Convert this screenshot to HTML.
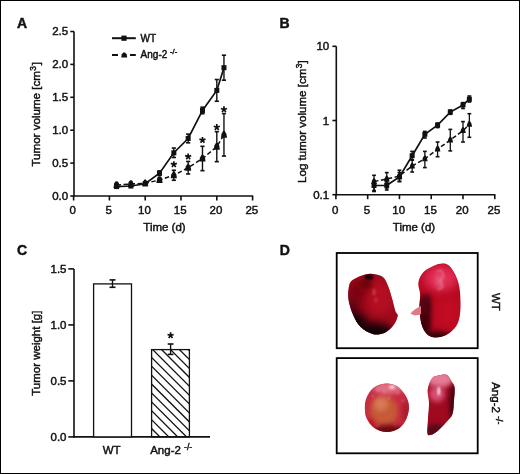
<!DOCTYPE html>
<html><head><meta charset="utf-8"><style>
html,body{margin:0;padding:0;background:#fff;}
body{width:520px;height:474px;overflow:hidden;position:relative;}
.frame{position:absolute;left:0;top:0;width:518px;height:472px;border-top:1px solid #000;border-left:1px solid #000;border-right:1.6px solid #000;border-bottom:1.6px solid #000;box-sizing:content-box;}
svg{position:absolute;left:0;top:0;will-change:transform;}
svg text{font-family:"Liberation Sans", sans-serif;font-weight:normal;fill:#111;stroke:#111;stroke-width:0.45px;}
.b{font-weight:bold;}
</style></head><body>
<svg width="520" height="474" viewBox="0 0 520 474">
<g stroke="#111" stroke-width="1.6" fill="none">
<line x1="74.00" y1="31.50" x2="74.00" y2="196.80" />
<line x1="70.3" y1="196.00" x2="74.00" y2="196.00" />
<text x="68.20" y="199.90" text-anchor="end" font-size="11.5">0.0</text>
<line x1="70.3" y1="163.10" x2="74.00" y2="163.10" />
<text x="68.20" y="167.00" text-anchor="end" font-size="11.5">0.5</text>
<line x1="70.3" y1="130.20" x2="74.00" y2="130.20" />
<text x="68.20" y="134.10" text-anchor="end" font-size="11.5">1.0</text>
<line x1="70.3" y1="97.30" x2="74.00" y2="97.30" />
<text x="68.20" y="101.20" text-anchor="end" font-size="11.5">1.5</text>
<line x1="70.3" y1="64.40" x2="74.00" y2="64.40" />
<text x="68.20" y="68.30" text-anchor="end" font-size="11.5">2.0</text>
<line x1="70.3" y1="31.50" x2="74.00" y2="31.50" />
<text x="68.20" y="35.40" text-anchor="end" font-size="11.5">2.5</text>
<line x1="73.20" y1="196.00" x2="253.20" y2="196.00" />
<line x1="73.60" y1="196.00" x2="73.60" y2="200.5" />
<text x="72.80" y="213.80" text-anchor="middle" font-size="11.5">0</text>
<line x1="109.40" y1="196.00" x2="109.40" y2="200.5" />
<text x="108.60" y="213.80" text-anchor="middle" font-size="11.5">5</text>
<line x1="145.20" y1="196.00" x2="145.20" y2="200.5" />
<text x="144.40" y="213.80" text-anchor="middle" font-size="11.5">10</text>
<line x1="181.00" y1="196.00" x2="181.00" y2="200.5" />
<text x="180.20" y="213.80" text-anchor="middle" font-size="11.5">15</text>
<line x1="216.80" y1="196.00" x2="216.80" y2="200.5" />
<text x="216.00" y="213.80" text-anchor="middle" font-size="11.5">20</text>
<line x1="252.60" y1="196.00" x2="252.60" y2="200.5" />
<text x="251.80" y="213.80" text-anchor="middle" font-size="11.5">25</text>
<text x="143.3" y="230.8" font-size="11.5">Time (d)</text>
<text transform="translate(40,166.6) rotate(-90)" font-size="11.6">Tumor volume [cm<tspan dx="0.3" dy="-4.3" font-size="8.4">3</tspan><tspan dx="0.9" dy="4.3">]</tspan></text>
<polyline points="116.56,186.60 130.88,186.00 145.20,183.80 159.52,173.20 173.84,152.77 188.16,138.49 202.48,110.46 216.80,90.39 223.96,67.69" fill="none" stroke-width="1.7"/>
<polyline points="116.56,185.00 130.88,184.00 145.20,183.30 159.52,180.00 173.84,175.27 188.16,167.71 202.48,158.49 216.80,146.65 223.96,134.81" fill="none" stroke-width="1.5" stroke-dasharray="4.5 2.5"/>
<line x1="116.56" y1="185.28" x2="116.56" y2="187.92" stroke-width="1.4"/>
<line x1="114.46" y1="185.28" x2="118.66" y2="185.28" />
<line x1="114.46" y1="187.92" x2="118.66" y2="187.92" />
<rect x="114.06" y="184.10" width="5" height="5" fill="#111" stroke="none"/>
<line x1="130.88" y1="184.68" x2="130.88" y2="187.32" stroke-width="1.4"/>
<line x1="128.78" y1="184.68" x2="132.98" y2="184.68" />
<line x1="128.78" y1="187.32" x2="132.98" y2="187.32" />
<rect x="128.38" y="183.50" width="5" height="5" fill="#111" stroke="none"/>
<line x1="145.20" y1="182.48" x2="145.20" y2="185.12" stroke-width="1.4"/>
<line x1="143.10" y1="182.48" x2="147.30" y2="182.48" />
<line x1="143.10" y1="185.12" x2="147.30" y2="185.12" />
<rect x="142.70" y="181.30" width="5" height="5" fill="#111" stroke="none"/>
<line x1="159.52" y1="170.90" x2="159.52" y2="175.50" stroke-width="1.4"/>
<line x1="157.42" y1="170.90" x2="161.62" y2="170.90" />
<line x1="157.42" y1="175.50" x2="161.62" y2="175.50" />
<rect x="157.02" y="170.70" width="5" height="5" fill="#111" stroke="none"/>
<line x1="173.84" y1="148.03" x2="173.84" y2="157.51" stroke-width="1.4"/>
<line x1="171.74" y1="148.03" x2="175.94" y2="148.03" />
<line x1="171.74" y1="157.51" x2="175.94" y2="157.51" />
<rect x="171.34" y="150.27" width="5" height="5" fill="#111" stroke="none"/>
<line x1="188.16" y1="134.15" x2="188.16" y2="142.83" stroke-width="1.4"/>
<line x1="186.06" y1="134.15" x2="190.26" y2="134.15" />
<line x1="186.06" y1="142.83" x2="190.26" y2="142.83" />
<rect x="185.66" y="135.99" width="5" height="5" fill="#111" stroke="none"/>
<line x1="202.48" y1="107.17" x2="202.48" y2="113.75" stroke-width="1.4"/>
<line x1="200.38" y1="107.17" x2="204.58" y2="107.17" />
<line x1="200.38" y1="113.75" x2="204.58" y2="113.75" />
<rect x="199.98" y="107.96" width="5" height="5" fill="#111" stroke="none"/>
<line x1="216.80" y1="79.53" x2="216.80" y2="101.25" stroke-width="1.4"/>
<line x1="214.70" y1="79.53" x2="218.90" y2="79.53" />
<line x1="214.70" y1="101.25" x2="218.90" y2="101.25" />
<rect x="214.30" y="87.89" width="5" height="5" fill="#111" stroke="none"/>
<line x1="223.96" y1="55.19" x2="223.96" y2="80.19" stroke-width="1.4"/>
<line x1="221.86" y1="55.19" x2="226.06" y2="55.19" />
<line x1="221.86" y1="80.19" x2="226.06" y2="80.19" />
<rect x="221.46" y="65.19" width="5" height="5" fill="#111" stroke="none"/>
<line x1="116.56" y1="183.35" x2="116.56" y2="186.65" stroke-width="1.4"/>
<line x1="114.46" y1="183.35" x2="118.66" y2="183.35" />
<line x1="114.46" y1="186.65" x2="118.66" y2="186.65" />
<path d="M115.76,181.20 L117.36,181.20 L118.96,183.86 L119.66,188.00 L113.46,188.00 L114.16,183.86 Z" fill="#111" stroke="none"/>
<line x1="130.88" y1="182.35" x2="130.88" y2="185.65" stroke-width="1.4"/>
<line x1="128.78" y1="182.35" x2="132.98" y2="182.35" />
<line x1="128.78" y1="185.65" x2="132.98" y2="185.65" />
<path d="M130.08,180.20 L131.68,180.20 L133.28,182.86 L133.98,187.00 L127.78,187.00 L128.48,182.86 Z" fill="#111" stroke="none"/>
<line x1="145.20" y1="181.98" x2="145.20" y2="184.62" stroke-width="1.4"/>
<line x1="143.10" y1="181.98" x2="147.30" y2="181.98" />
<line x1="143.10" y1="184.62" x2="147.30" y2="184.62" />
<path d="M144.40,179.50 L146.00,179.50 L147.60,182.16 L148.30,186.30 L142.10,186.30 L142.80,182.16 Z" fill="#111" stroke="none"/>
<line x1="159.52" y1="178.03" x2="159.52" y2="181.97" stroke-width="1.4"/>
<line x1="157.42" y1="178.03" x2="161.62" y2="178.03" />
<line x1="157.42" y1="181.97" x2="161.62" y2="181.97" />
<path d="M158.72,176.20 L160.32,176.20 L161.92,178.86 L162.62,183.00 L156.42,183.00 L157.12,178.86 Z" fill="#111" stroke="none"/>
<line x1="173.84" y1="170.27" x2="173.84" y2="180.27" stroke-width="1.4"/>
<line x1="171.74" y1="170.27" x2="175.94" y2="170.27" />
<line x1="171.74" y1="180.27" x2="175.94" y2="180.27" />
<path d="M173.04,171.47 L174.64,171.47 L176.24,174.13 L176.94,178.27 L170.74,178.27 L171.44,174.13 Z" fill="#111" stroke="none"/>
<line x1="188.16" y1="161.46" x2="188.16" y2="173.96" stroke-width="1.4"/>
<line x1="186.06" y1="161.46" x2="190.26" y2="161.46" />
<line x1="186.06" y1="173.96" x2="190.26" y2="173.96" />
<path d="M187.36,163.91 L188.96,163.91 L190.56,166.57 L191.26,170.71 L185.06,170.71 L185.76,166.57 Z" fill="#111" stroke="none"/>
<line x1="202.48" y1="146.32" x2="202.48" y2="170.67" stroke-width="1.4"/>
<line x1="200.38" y1="146.32" x2="204.58" y2="146.32" />
<line x1="200.38" y1="170.67" x2="204.58" y2="170.67" />
<path d="M201.68,154.69 L203.28,154.69 L204.88,157.35 L205.58,161.49 L199.38,161.49 L200.08,157.35 Z" fill="#111" stroke="none"/>
<line x1="216.80" y1="131.65" x2="216.80" y2="161.65" stroke-width="1.4"/>
<line x1="214.70" y1="131.65" x2="218.90" y2="131.65" />
<line x1="214.70" y1="161.65" x2="218.90" y2="161.65" />
<path d="M216.00,142.85 L217.60,142.85 L219.20,145.51 L219.90,149.65 L213.70,149.65 L214.40,145.51 Z" fill="#111" stroke="none"/>
<line x1="223.96" y1="113.55" x2="223.96" y2="156.06" stroke-width="1.4"/>
<line x1="221.86" y1="113.55" x2="226.06" y2="113.55" />
<line x1="221.86" y1="156.06" x2="226.06" y2="156.06" />
<path d="M223.16,131.01 L224.76,131.01 L226.36,133.67 L227.06,137.81 L220.86,137.81 L221.56,133.67 Z" fill="#111" stroke="none"/>
<path d="M173.84,164.40 L173.84,161.20 M173.84,164.40 L176.88,163.41 M173.84,164.40 L175.72,166.99 M173.84,164.40 L171.96,166.99 M173.84,164.40 L170.80,163.41" stroke-width="1.7" stroke-linecap="butt"/>
<path d="M188.16,156.60 L188.16,153.40 M188.16,156.60 L191.20,155.61 M188.16,156.60 L190.04,159.19 M188.16,156.60 L186.28,159.19 M188.16,156.60 L185.12,155.61" stroke-width="1.7" stroke-linecap="butt"/>
<path d="M202.48,140.10 L202.48,136.90 M202.48,140.10 L205.52,139.11 M202.48,140.10 L204.36,142.69 M202.48,140.10 L200.60,142.69 M202.48,140.10 L199.44,139.11" stroke-width="1.7" stroke-linecap="butt"/>
<path d="M216.80,127.30 L216.80,124.10 M216.80,127.30 L219.84,126.31 M216.80,127.30 L218.68,129.89 M216.80,127.30 L214.92,129.89 M216.80,127.30 L213.76,126.31" stroke-width="1.7" stroke-linecap="butt"/>
<path d="M223.96,109.50 L223.96,106.30 M223.96,109.50 L227.00,108.51 M223.96,109.50 L225.84,112.09 M223.96,109.50 L222.08,112.09 M223.96,109.50 L220.92,108.51" stroke-width="1.7" stroke-linecap="butt"/>
<line x1="112" y1="38.2" x2="135.8" y2="38.2" stroke-width="2"/>
<rect x="121.40" y="35.60" width="5.2" height="5.2" fill="#111" stroke="none"/>
<line x1="112" y1="55" x2="118" y2="55" stroke-width="2"/>
<line x1="130" y1="55" x2="135.8" y2="55" stroke-width="2"/>
<path d="M123.40,52.40 L125.00,52.40 L126.60,54.29 L127.20,57.50 L121.20,57.50 L121.80,54.29 Z" fill="#111" stroke="none"/>
<text x="140.6" y="41.8" font-size="10">WT</text>
<text x="140.6" y="58.2" font-size="10">Ang-2<tspan x="170" y="54.2" font-size="7.6">-/-</tspan></text>
<line x1="336.30" y1="46.30" x2="336.30" y2="195.50" />
<line x1="332.4" y1="194.70" x2="336.30" y2="194.70" />
<text x="329.20" y="198.70" text-anchor="end" font-size="11.5">0.1</text>
<line x1="332.4" y1="120.50" x2="336.30" y2="120.50" />
<text x="329.20" y="124.50" text-anchor="end" font-size="11.5">1</text>
<line x1="332.4" y1="46.30" x2="336.30" y2="46.30" />
<text x="329.20" y="50.30" text-anchor="end" font-size="11.5">10</text>
<line x1="335.50" y1="194.70" x2="495.38" y2="194.70" />
<line x1="335.90" y1="194.70" x2="335.90" y2="199.2" />
<text x="335.10" y="213.80" text-anchor="middle" font-size="11.5">0</text>
<line x1="367.67" y1="194.70" x2="367.67" y2="199.2" />
<text x="366.87" y="213.80" text-anchor="middle" font-size="11.5">5</text>
<line x1="399.45" y1="194.70" x2="399.45" y2="199.2" />
<text x="398.65" y="213.80" text-anchor="middle" font-size="11.5">10</text>
<line x1="431.22" y1="194.70" x2="431.22" y2="199.2" />
<text x="430.42" y="213.80" text-anchor="middle" font-size="11.5">15</text>
<line x1="463.00" y1="194.70" x2="463.00" y2="199.2" />
<text x="462.20" y="213.80" text-anchor="middle" font-size="11.5">20</text>
<line x1="494.77" y1="194.70" x2="494.77" y2="199.2" />
<text x="493.97" y="213.80" text-anchor="middle" font-size="11.5">25</text>
<text x="392.8" y="230.9" font-size="11.5">Time (d)</text>
<text transform="translate(306,182.9) rotate(-90)" font-size="11.55">Log tumor volume [cm<tspan dx="0.3" dy="-4.3" font-size="8.4">3</tspan><tspan dx="0.1" dy="4.3">]</tspan></text>
<polyline points="374.03,185.50 386.74,185.30 399.45,177.00 412.16,155.70 424.87,134.30 437.58,125.20 450.29,112.10 463.00,105.00 469.36,99.20" fill="none" stroke-width="1.7"/>
<polyline points="374.03,181.50 386.74,179.00 399.45,176.00 412.16,166.00 424.87,158.80 437.58,149.10 450.29,140.00 463.00,130.60 469.36,124.40" fill="none" stroke-width="1.5" stroke-dasharray="4.5 2.5"/>
<line x1="374.03" y1="182.50" x2="374.03" y2="191.50" stroke-width="1.3"/>
<line x1="372.13" y1="182.50" x2="375.93" y2="182.50" />
<line x1="372.13" y1="191.50" x2="375.93" y2="191.50" />
<rect x="371.53" y="183.00" width="5" height="5" fill="#111" stroke="none"/>
<line x1="386.74" y1="182.00" x2="386.74" y2="190.00" stroke-width="1.3"/>
<line x1="384.84" y1="182.00" x2="388.64" y2="182.00" />
<line x1="384.84" y1="190.00" x2="388.64" y2="190.00" />
<rect x="384.24" y="182.80" width="5" height="5" fill="#111" stroke="none"/>
<line x1="399.45" y1="172.50" x2="399.45" y2="181.50" stroke-width="1.3"/>
<line x1="397.55" y1="172.50" x2="401.35" y2="172.50" />
<line x1="397.55" y1="181.50" x2="401.35" y2="181.50" />
<rect x="396.95" y="174.50" width="5" height="5" fill="#111" stroke="none"/>
<line x1="412.16" y1="151.40" x2="412.16" y2="159.80" stroke-width="1.3"/>
<line x1="410.26" y1="151.40" x2="414.06" y2="151.40" />
<line x1="410.26" y1="159.80" x2="414.06" y2="159.80" />
<rect x="409.66" y="153.20" width="5" height="5" fill="#111" stroke="none"/>
<line x1="424.87" y1="131.40" x2="424.87" y2="138.00" stroke-width="1.3"/>
<line x1="422.97" y1="131.40" x2="426.77" y2="131.40" />
<line x1="422.97" y1="138.00" x2="426.77" y2="138.00" />
<rect x="422.37" y="131.80" width="5" height="5" fill="#111" stroke="none"/>
<line x1="437.58" y1="123.00" x2="437.58" y2="127.60" stroke-width="1.3"/>
<line x1="435.68" y1="123.00" x2="439.48" y2="123.00" />
<line x1="435.68" y1="127.60" x2="439.48" y2="127.60" />
<rect x="435.08" y="122.70" width="5" height="5" fill="#111" stroke="none"/>
<line x1="450.29" y1="110.00" x2="450.29" y2="114.30" stroke-width="1.3"/>
<line x1="448.39" y1="110.00" x2="452.19" y2="110.00" />
<line x1="448.39" y1="114.30" x2="452.19" y2="114.30" />
<rect x="447.79" y="109.60" width="5" height="5" fill="#111" stroke="none"/>
<line x1="463.00" y1="102.60" x2="463.00" y2="108.50" stroke-width="1.3"/>
<line x1="461.10" y1="102.60" x2="464.90" y2="102.60" />
<line x1="461.10" y1="108.50" x2="464.90" y2="108.50" />
<rect x="460.50" y="102.50" width="5" height="5" fill="#111" stroke="none"/>
<line x1="469.36" y1="96.00" x2="469.36" y2="102.00" stroke-width="1.3"/>
<line x1="467.46" y1="96.00" x2="471.25" y2="96.00" />
<line x1="467.46" y1="102.00" x2="471.25" y2="102.00" />
<rect x="466.86" y="96.70" width="5" height="5" fill="#111" stroke="none"/>
<line x1="374.03" y1="175.30" x2="374.03" y2="190.50" stroke-width="1.3"/>
<line x1="372.13" y1="175.30" x2="375.93" y2="175.30" />
<line x1="372.13" y1="190.50" x2="375.93" y2="190.50" />
<path d="M373.33,178.20 L374.73,178.20 L376.03,180.51 L376.83,183.90 L371.23,183.90 L372.03,180.51 Z" fill="#111" stroke="none"/>
<line x1="386.74" y1="172.60" x2="386.74" y2="188.00" stroke-width="1.3"/>
<line x1="384.84" y1="172.60" x2="388.64" y2="172.60" />
<line x1="384.84" y1="188.00" x2="388.64" y2="188.00" />
<path d="M386.04,175.70 L387.44,175.70 L388.74,178.01 L389.54,181.40 L383.94,181.40 L384.74,178.01 Z" fill="#111" stroke="none"/>
<line x1="399.45" y1="170.20" x2="399.45" y2="181.50" stroke-width="1.3"/>
<line x1="397.55" y1="170.20" x2="401.35" y2="170.20" />
<line x1="397.55" y1="181.50" x2="401.35" y2="181.50" />
<path d="M398.75,172.70 L400.15,172.70 L401.45,175.01 L402.25,178.40 L396.65,178.40 L397.45,175.01 Z" fill="#111" stroke="none"/>
<line x1="412.16" y1="160.20" x2="412.16" y2="172.00" stroke-width="1.3"/>
<line x1="410.26" y1="160.20" x2="414.06" y2="160.20" />
<line x1="410.26" y1="172.00" x2="414.06" y2="172.00" />
<path d="M411.46,162.70 L412.86,162.70 L414.16,165.01 L414.96,168.40 L409.36,168.40 L410.16,165.01 Z" fill="#111" stroke="none"/>
<line x1="424.87" y1="151.40" x2="424.87" y2="167.60" stroke-width="1.3"/>
<line x1="422.97" y1="151.40" x2="426.77" y2="151.40" />
<line x1="422.97" y1="167.60" x2="426.77" y2="167.60" />
<path d="M424.17,155.50 L425.57,155.50 L426.87,157.81 L427.67,161.20 L422.07,161.20 L422.87,157.81 Z" fill="#111" stroke="none"/>
<line x1="437.58" y1="142.00" x2="437.58" y2="156.70" stroke-width="1.3"/>
<line x1="435.68" y1="142.00" x2="439.48" y2="142.00" />
<line x1="435.68" y1="156.70" x2="439.48" y2="156.70" />
<path d="M436.88,145.80 L438.28,145.80 L439.58,148.11 L440.38,151.50 L434.78,151.50 L435.58,148.11 Z" fill="#111" stroke="none"/>
<line x1="450.29" y1="129.40" x2="450.29" y2="150.90" stroke-width="1.3"/>
<line x1="448.39" y1="129.40" x2="452.19" y2="129.40" />
<line x1="448.39" y1="150.90" x2="452.19" y2="150.90" />
<path d="M449.59,136.70 L450.99,136.70 L452.29,139.01 L453.09,142.40 L447.49,142.40 L448.29,139.01 Z" fill="#111" stroke="none"/>
<line x1="463.00" y1="121.60" x2="463.00" y2="142.00" stroke-width="1.3"/>
<line x1="461.10" y1="121.60" x2="464.90" y2="121.60" />
<line x1="461.10" y1="142.00" x2="464.90" y2="142.00" />
<path d="M462.30,127.30 L463.70,127.30 L465.00,129.61 L465.80,133.00 L460.20,133.00 L461.00,129.61 Z" fill="#111" stroke="none"/>
<line x1="469.36" y1="113.70" x2="469.36" y2="137.30" stroke-width="1.3"/>
<line x1="467.46" y1="113.70" x2="471.25" y2="113.70" />
<line x1="467.46" y1="137.30" x2="471.25" y2="137.30" />
<path d="M468.66,121.10 L470.06,121.10 L471.36,123.41 L472.16,126.80 L466.56,126.80 L467.36,123.41 Z" fill="#111" stroke="none"/>
<line x1="74.0" y1="268.90" x2="74.0" y2="437.70" />
<line x1="68.3" y1="436.90" x2="74.0" y2="436.90" />
<text x="66.50" y="440.80" text-anchor="end" font-size="11.5">0.0</text>
<line x1="68.3" y1="380.90" x2="74.0" y2="380.90" />
<text x="66.50" y="384.80" text-anchor="end" font-size="11.5">0.5</text>
<line x1="68.3" y1="324.90" x2="74.0" y2="324.90" />
<text x="66.50" y="328.80" text-anchor="end" font-size="11.5">1.0</text>
<line x1="68.3" y1="268.90" x2="74.0" y2="268.90" />
<text x="66.50" y="272.80" text-anchor="end" font-size="11.5">1.5</text>
<line x1="73.2" y1="436.90" x2="210" y2="436.90" />
<rect x="93.6" y="283.9" width="37.9" height="153.00" fill="#fff" stroke-width="1.3"/>
<line x1="112.50" y1="279.90" x2="112.50" y2="287.30" stroke-width="1.4"/>
<line x1="109.50" y1="279.90" x2="115.50" y2="279.90" />
<line x1="109.50" y1="287.30" x2="115.50" y2="287.30" />
<clipPath id="cb"><rect x="151.6" y="349.6" width="37.8" height="87.3"/></clipPath>
<g clip-path="url(#cb)" stroke-width="1.3">
<line x1="140" y1="292.40" x2="200" y2="352.40" />
<line x1="140" y1="301.30" x2="200" y2="361.30" />
<line x1="140" y1="310.20" x2="200" y2="370.20" />
<line x1="140" y1="319.10" x2="200" y2="379.10" />
<line x1="140" y1="328.00" x2="200" y2="388.00" />
<line x1="140" y1="336.90" x2="200" y2="396.90" />
<line x1="140" y1="345.80" x2="200" y2="405.80" />
<line x1="140" y1="354.70" x2="200" y2="414.70" />
<line x1="140" y1="363.60" x2="200" y2="423.60" />
<line x1="140" y1="372.50" x2="200" y2="432.50" />
<line x1="140" y1="381.40" x2="200" y2="441.40" />
<line x1="140" y1="390.30" x2="200" y2="450.30" />
<line x1="140" y1="399.20" x2="200" y2="459.20" />
<line x1="140" y1="408.10" x2="200" y2="468.10" />
<line x1="140" y1="417.00" x2="200" y2="477.00" />
<line x1="140" y1="425.90" x2="200" y2="485.90" />
<line x1="140" y1="434.80" x2="200" y2="494.80" />
<line x1="140" y1="443.70" x2="200" y2="503.70" />
<line x1="140" y1="452.60" x2="200" y2="512.60" />
<line x1="140" y1="461.50" x2="200" y2="521.50" />
</g>
<rect x="151.6" y="349.6" width="37.8" height="87.30" fill="none" stroke-width="1.3"/>
<line x1="170.60" y1="344.00" x2="170.60" y2="354.40" stroke-width="1.4"/>
<line x1="167.70" y1="344.00" x2="173.50" y2="344.00" />
<line x1="167.70" y1="354.40" x2="173.50" y2="354.40" />
<path d="M170.60,335.50 L170.60,332.30 M170.60,335.50 L173.64,334.51 M170.60,335.50 L172.48,338.09 M170.60,335.50 L168.72,338.09 M170.60,335.50 L167.56,334.51" stroke-width="1.7" stroke-linecap="butt"/>
<text x="111.6" y="454" text-anchor="middle" font-size="11.5">WT</text>
<text x="150.2" y="453.7" font-size="11.5">Ang-2<tspan x="184" y="450.3" font-size="8.8">-/-</tspan></text>
<text transform="translate(39.8,395.8) rotate(-90)" font-size="11.5">Tumor weight [g]</text>
<text x="17" y="27.8" font-size="14" class="b">A</text>
<text x="279.5" y="27.8" font-size="14" class="b">B</text>
<text x="17" y="254.8" font-size="14" class="b">C</text>
<text x="279.8" y="254.8" font-size="14" class="b">D</text>
</g>
<rect x="336.7" y="253" width="141" height="95.2" fill="#fff" stroke="#000" stroke-width="1.8"/>
<rect x="336.7" y="358.1" width="141" height="95.2" fill="#fff" stroke="#000" stroke-width="1.8"/>
<text transform="translate(491.6,293) rotate(90)" font-size="11.5" fill="#111">WT</text>
<text transform="translate(492.3,382.2) rotate(90)" font-size="11.5" fill="#111">Ang-2<tspan dx="3.2" dy="-4.2" font-size="8.8">-/-</tspan></text>
<defs>
<clipPath id="c1"><path d="M368.1,273.9 C372.9,273.2 378.2,274.4 381.4,276.1 C384.6,277.8 385.6,280.6 387.3,284.2 C389.0,287.8 390.4,293.0 391.7,297.5 C393.0,302.0 394.4,307.9 395.4,311.0 C396.4,314.1 398.1,313.6 397.7,316.0 C397.3,318.4 395.4,322.8 393.2,325.6 C391.0,328.4 387.8,331.6 384.4,333.0 C380.9,334.4 376.4,335.0 372.5,334.0 C368.6,333.0 363.9,330.2 360.7,327.1 C357.5,324.0 355.3,319.7 353.3,315.3 C351.3,310.9 349.4,304.9 348.6,300.5 C347.8,296.1 348.0,292.1 348.6,288.7 C349.2,285.3 349.2,282.5 352.5,280.0 C355.8,277.5 363.3,274.5 368.1,273.9 Z"/></clipPath>
<clipPath id="c2"><path d="M442.6,263.5 C445.2,263.5 447.2,263.7 449.5,266.0 C451.8,268.3 454.7,273.1 456.4,277.3 C458.1,281.5 459.3,285.3 459.9,291.1 C460.5,296.9 460.8,306.1 460.2,311.9 C459.6,317.7 458.9,321.8 456.4,325.7 C453.9,329.6 449.2,333.6 445.0,335.5 C440.8,337.4 434.8,338.2 431.0,336.8 C427.2,335.4 424.4,331.5 422.5,327.0 C420.6,322.5 419.9,315.4 419.5,310.0 C419.1,304.6 420.3,299.2 420.1,294.6 C419.9,290.0 417.8,286.2 418.4,282.5 C419.0,278.8 421.0,274.9 423.6,272.1 C426.2,269.3 430.8,267.2 434.0,265.8 C437.2,264.4 440.0,263.5 442.6,263.5 Z"/></clipPath>
<clipPath id="c3"><path d="M385.7,383.5 C389.6,383.2 393.4,384.1 396.7,386.0 C400.0,387.9 403.2,391.7 405.3,395.1 C407.4,398.5 408.8,402.3 409.0,406.2 C409.2,410.1 408.1,414.7 406.5,418.4 C404.9,422.1 402.5,425.9 399.2,428.2 C395.9,430.4 391.0,431.9 386.9,431.9 C382.8,431.9 378.1,430.4 374.7,428.2 C371.3,425.9 368.3,421.5 366.7,418.4 C365.1,415.3 365.0,413.1 364.9,409.8 C364.8,406.5 364.7,402.5 366.1,398.8 C367.5,395.1 370.2,390.4 373.5,387.8 C376.8,385.2 381.8,383.8 385.7,383.5 Z"/></clipPath>
<clipPath id="c4"><path d="M432.0,378.5 C433.7,376.2 435.6,376.2 438.0,375.6 C440.4,375.0 444.3,373.9 446.5,374.8 C448.7,375.7 449.9,378.9 451.3,381.0 C452.7,383.1 454.2,384.1 454.6,387.3 C455.1,390.5 454.4,395.6 454.0,400.0 C453.6,404.4 453.8,410.3 452.5,414.0 C451.2,417.7 449.1,419.1 446.5,422.0 C443.9,424.9 439.6,429.4 437.0,431.5 C434.4,433.6 432.8,434.5 431.2,434.8 C429.6,435.1 428.0,436.3 427.5,433.5 C427.0,430.7 427.8,423.1 428.0,418.0 C428.2,412.9 429.1,407.8 429.0,403.0 C428.9,398.2 427.2,393.6 427.7,389.5 C428.2,385.4 430.3,380.8 432.0,378.5 Z"/></clipPath>
<filter id="b2" color-interpolation-filters="sRGB" filterUnits="userSpaceOnUse" x="300" y="240" width="220" height="234"><feGaussianBlur color-interpolation-filters="sRGB" stdDeviation="2.5"/></filter>
<filter id="b4" color-interpolation-filters="sRGB" filterUnits="userSpaceOnUse" x="300" y="240" width="220" height="234"><feGaussianBlur color-interpolation-filters="sRGB" stdDeviation="4"/></filter>
<filter id="b1" color-interpolation-filters="sRGB" filterUnits="userSpaceOnUse" x="300" y="240" width="220" height="234"><feGaussianBlur color-interpolation-filters="sRGB" stdDeviation="1"/></filter>
<filter id="e1" color-interpolation-filters="sRGB" filterUnits="userSpaceOnUse" x="300" y="240" width="220" height="234"><feGaussianBlur color-interpolation-filters="sRGB" stdDeviation="0.45"/></filter>
</defs>
<g filter="url(#e1)"><g clip-path="url(#c1)">
<rect x="340" y="268" width="65" height="72" fill="#9a0a1c"/>
<ellipse cx="380" cy="298" rx="14" ry="18" fill="#b40e22" filter="url(#b4)"/>
<ellipse cx="357" cy="292" rx="8" ry="11" fill="#7e0210" filter="url(#b4)"/>
<ellipse cx="366" cy="284" rx="6" ry="5" fill="#6a0408" filter="url(#b2)"/>
<ellipse cx="352" cy="312" rx="6" ry="14" fill="#500412" filter="url(#b4)"/>
<ellipse cx="372" cy="336" rx="24" ry="13" fill="#0c0206" filter="url(#b4)"/>
<ellipse cx="356" cy="324" rx="11" ry="11" fill="#140208" filter="url(#b4)"/>
<ellipse cx="394" cy="320" rx="4" ry="6" fill="#a00a1c" filter="url(#b2)"/>
<ellipse cx="369" cy="277" rx="4.5" ry="3" fill="#1e0004" filter="url(#b1)"/>
<ellipse cx="374" cy="292" rx="1.5" ry="3.5" fill="#e06a78" filter="url(#b1)" opacity="0.5"/>
<ellipse cx="376" cy="300" rx="1.5" ry="2.5" fill="#e06a78" filter="url(#b1)" opacity="0.4"/>
</g></g>
<g filter="url(#e1)"><g clip-path="url(#c2)">
<rect x="410" y="260" width="60" height="80" fill="#b80a20"/>
<ellipse cx="441" cy="278" rx="17" ry="13" fill="#e02c54" filter="url(#b4)"/>
<ellipse cx="439" cy="281" rx="4" ry="8" fill="#ea8aa0" filter="url(#b2)" opacity="0.45"/>
<ellipse cx="423" cy="318" rx="8" ry="24" fill="#5a0412" filter="url(#b2)"/>
<ellipse cx="425" cy="324" rx="4" ry="12" fill="#3a000a" filter="url(#b2)"/>
<ellipse cx="428" cy="304" rx="2.6" ry="11" fill="#420612" filter="url(#b2)"/>
<path d="M436,272 L441,270 L444,276 L440,281 L443,287 L438,290" fill="none" stroke="#f4b0c0" stroke-width="1.1" filter="url(#b1)" opacity="0.6"/>
<ellipse cx="436" cy="337" rx="18" ry="6" fill="#380008" filter="url(#b2)"/>
<ellipse cx="448" cy="312" rx="10" ry="14" fill="#c20c24" filter="url(#b4)"/>
</g>
<path d="M421,306 C417,308 413,310 410.5,313.5 C413,315.5 417,316 421,314 Z" fill="#e07888"/>
</g>
<g filter="url(#e1)"><g clip-path="url(#c3)">
<rect x="360" y="378" width="55" height="58" fill="#c82c42"/>
<ellipse cx="384" cy="411" rx="14" ry="15" fill="#c65a36" filter="url(#b2)"/>
<ellipse cx="381" cy="404" rx="7" ry="7" fill="#d87a58" filter="url(#b2)"/>
<ellipse cx="388" cy="388" rx="15" ry="6" fill="#e27288" filter="url(#b2)"/>
<ellipse cx="392" cy="387" rx="3" ry="2" fill="#f8c8d4" filter="url(#b1)"/>
<circle cx="378" cy="390" r="1" fill="#f4b4bc" opacity="0.7" filter="url(#b1)"/>
<circle cx="384" cy="392" r="1" fill="#f4b4bc" opacity="0.7" filter="url(#b1)"/>
<circle cx="398" cy="393" r="1" fill="#f4b4bc" opacity="0.7" filter="url(#b1)"/>
<circle cx="403" cy="401" r="1" fill="#f4b4bc" opacity="0.7" filter="url(#b1)"/>
<circle cx="373" cy="396" r="1" fill="#f4b4bc" opacity="0.7" filter="url(#b1)"/>
<circle cx="389" cy="398" r="1" fill="#f4b4bc" opacity="0.7" filter="url(#b1)"/>
<circle cx="395" cy="425" r="1" fill="#f4b4bc" opacity="0.7" filter="url(#b1)"/>
<circle cx="378" cy="426" r="1" fill="#f4b4bc" opacity="0.7" filter="url(#b1)"/>
<ellipse cx="389" cy="431" rx="17" ry="6" fill="#6a0a0e" filter="url(#b2)"/>
<ellipse cx="406" cy="412" rx="4" ry="12" fill="#a81c2a" filter="url(#b2)"/>
<ellipse cx="370" cy="424" rx="4" ry="5" fill="#b01418" filter="url(#b2)"/>
</g></g>
<g filter="url(#e1)"><g clip-path="url(#c4)">
<rect x="425" y="372" width="32" height="66" fill="#a00a20"/>
<ellipse cx="440" cy="379" rx="13" ry="9" fill="#e47a96" filter="url(#b2)"/>
<ellipse cx="437" cy="394" rx="8" ry="8" fill="#d65074" filter="url(#b2)"/>
<ellipse cx="438.8" cy="391" rx="1.3" ry="4.5" fill="#fae0e6" filter="url(#b1)"/>
<ellipse cx="453.5" cy="403" rx="4" ry="18" fill="#3c0410" filter="url(#b2)"/>
<ellipse cx="436" cy="431" rx="12" ry="7" fill="#5a0818" filter="url(#b2)"/>
</g></g>
</svg>
<div class="frame"></div>
</body></html>
